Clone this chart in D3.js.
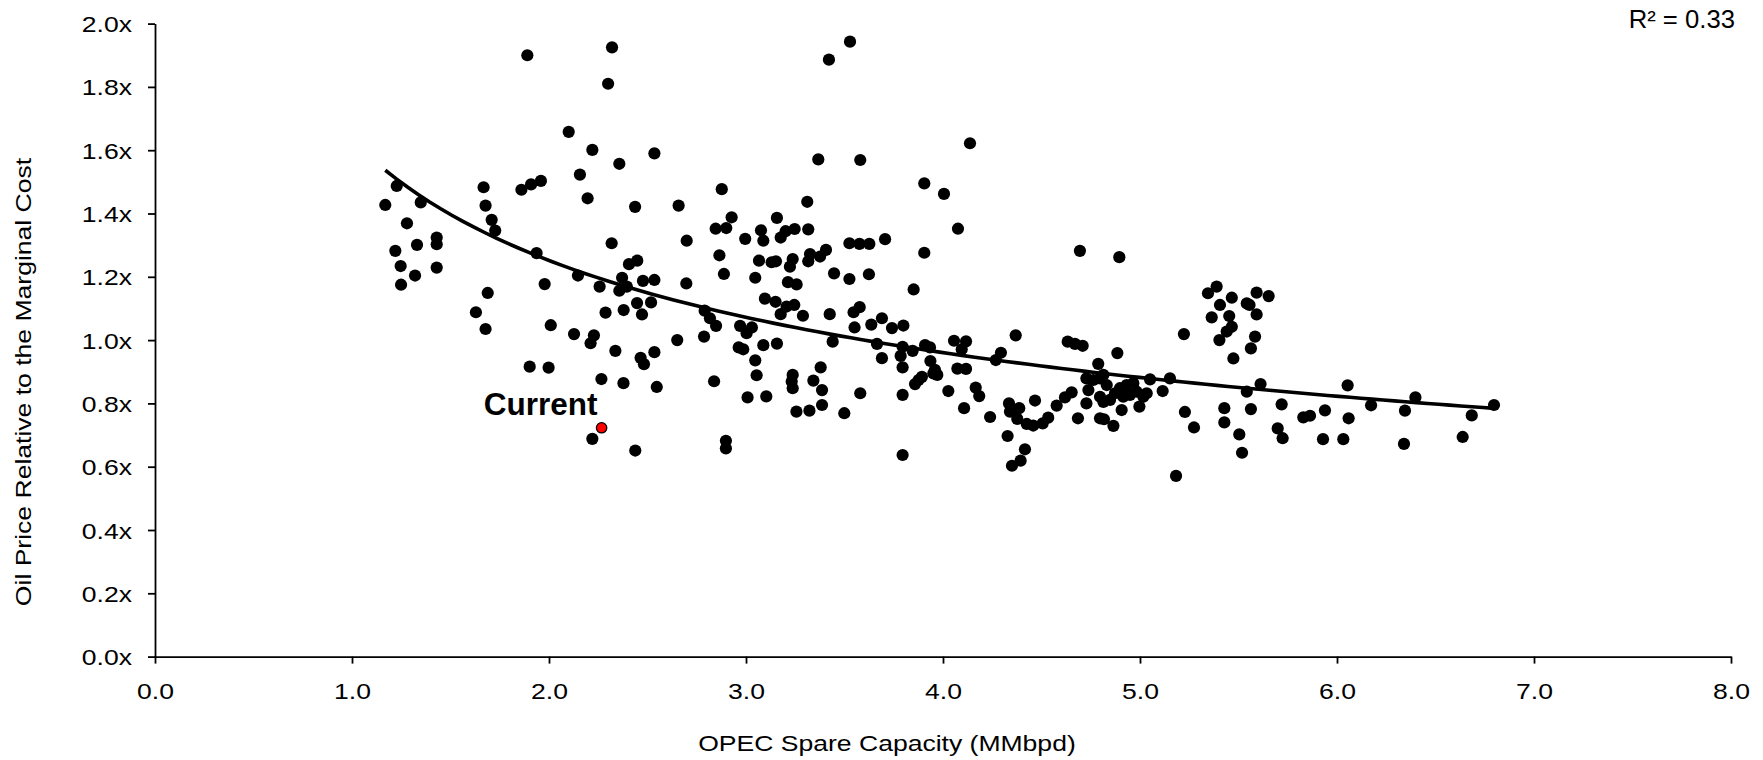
<!DOCTYPE html>
<html>
<head>
<meta charset="utf-8">
<script src="https://cdn.jsdelivr.net/npm/d3@7"></script>
<style>
  body { margin: 0; background: #fff; }
  text { font-family: "Liberation Sans", Arial, sans-serif; fill: #000; }
</style>
</head>
<body>
<svg id="chart" width="1763" height="760"></svg>
<script>
// OPEC spare capacity (MMbpd), one entry per observation
const spareCapacity = [
  1.89, 2.32, 2.30, 2.10, 2.22, 2.535, 2.357, 2.157, 2.196, 2.437, 2.318, 2.406, 2.448,
  1.86, 1.909, 1.959, 1.668, 1.678, 1.709, 1.727, 1.937, 1.227, 1.169, 1.349, 1.279,
  1.33, 1.43, 1.43, 1.22, 1.247, 1.43,
  1.32, 1.249, 1.689, 1.629, 1.678, 1.978, 2.009, 2.127, 2.228, 2.211, 2.337, 1.902,
  1.998, 2.266, 2.378, 2.22, 2.438, 2.147, 2.257, 2.287, 2.379, 2.472, 2.447, 2.518,
  2.371, 2.395, 2.357, 2.477, 2.535, 2.465, 2.482, 2.535, 2.547,
  3.528, 3.421, 3.367, 3.58, 3.905, 4.005, 2.877, 2.658, 3.311, 2.927, 2.846, 2.90,
  3.157, 3.076, 3.088, 2.996, 2.699, 3.201, 3.247, 3.176, 3.316, 3.525, 3.576, 3.626,
  3.706, 3.905, 2.865, 3.066, 3.13, 3.152, 3.237, 3.223, 3.325, 3.316, 3.376, 3.406,
  4.137, 4.076, 4.695, 4.895,
  2.697, 2.888, 3.047, 3.213, 3.257, 3.447, 3.525, 3.624, 3.851, 3.096, 3.15, 3.206,
  3.245, 3.176, 3.289, 3.425, 3.546, 3.577, 3.551, 3.636, 3.69, 3.741, 3.799, 2.79,
  2.817, 2.848, 2.787, 2.651, 2.97, 3.03, 3.003, 2.963, 2.986, 3.088, 3.157, 3.44,
  3.665, 3.795, 3.785, 3.846, 3.909, 3.934, 3.936, 3.69, 3.795, 3.047, 3.054, 3.379,
  3.342, 3.386, 3.237, 3.232, 3.237, 2.838, 3.008, 3.103, 3.256, 3.322, 3.386, 3.499,
  3.58, 3.795, 3.876, 3.893, 3.858, 3.951, 3.971, 2.898, 2.898, 3.795,
  3.959, 4.056, 4.117, 4.095, 4.073, 4.117, 4.369, 4.294, 4.268, 4.027, 4.166, 4.184,
  4.107, 4.239, 4.335, 4.34, 4.387, 4.377, 4.425, 4.458, 4.506, 4.534, 4.467, 4.328,
  4.416, 4.394, 4.35, 4.577, 4.619, 4.653, 4.685, 4.633, 4.67, 4.709, 4.885, 4.788,
  4.728, 4.763, 4.797, 4.814, 4.831, 4.738, 4.728, 4.797, 4.814, 4.848, 4.873, 4.898,
  4.932, 4.966, 4.915, 4.949, 4.983, 5.017, 5.034, 4.907, 4.997, 4.797, 4.817, 4.865,
  5.051, 5.152, 5.115, 5.228, 5.274, 5.183, 5.223, 5.345, 5.389, 5.406, 5.364, 5.403,
  5.466, 5.453, 5.466, 5.44, 5.592, 5.653, 5.542, 5.556, 5.592, 5.584, 5.563, 5.474,
  5.612, 5.542, 5.428, 5.428, 5.563, 5.504, 5.518, 5.719, 5.699, 5.724, 5.829, 5.863,
  5.939, 5.929, 6.032, 6.054, 6.059, 6.173, 6.345, 6.398, 6.34, 6.684, 6.638, 6.797
];

// oil price relative to the marginal cost, same order as spareCapacity
const priceRatio = [
  1.90, 1.925, 1.81, 1.658, 1.601, 1.59, 1.557, 1.523, 1.448, 1.421, 1.306, 1.24, 1.251,
  1.475, 1.492, 1.503, 1.483, 1.425, 1.38, 1.346, 1.275, 1.487, 1.427, 1.435, 1.369,
  1.301, 1.324, 1.303, 1.282, 1.234, 1.229,
  1.204, 1.175, 1.149, 1.088, 1.035, 1.177, 1.047, 1.019, 1.015, 0.99, 0.966, 0.916,
  0.913, 0.877, 0.864, 0.688, 0.651, 1.204, 1.169, 1.087, 1.095, 1.081, 1.117, 1.119,
  1.197, 1.169, 1.156, 1.187, 1.19, 0.944, 0.924, 0.962, 0.852,
  1.943, 1.886, 1.571, 1.569, 1.495, 1.462, 1.477, 1.425, 1.437, 1.388, 1.352, 1.354,
  1.386, 1.347, 1.314, 1.32, 1.314, 1.344, 1.351, 1.324, 1.35, 1.306, 1.304, 1.304,
  1.319, 1.276, 1.268, 1.251, 1.246, 1.249, 1.256, 1.232, 1.272, 1.249, 1.264, 1.285,
  1.622, 1.352, 1.282, 1.262,
  1.179, 1.209, 1.197, 1.183, 1.176, 1.211, 1.193, 1.208, 1.16, 1.131, 1.121, 1.106,
  1.111, 1.082, 1.077, 1.082, 1.088, 1.104, 1.04, 1.049, 1.069, 1.038, 1.046, 1.093,
  1.069, 1.045, 1.011, 1.0, 1.045, 1.04, 1.022, 0.977, 0.971, 0.984, 0.989, 0.995,
  0.988, 0.979, 0.95, 0.966, 0.984, 0.977, 0.934, 0.943, 0.914, 0.936, 0.889, 0.914,
  0.872, 0.842, 0.89, 0.869, 0.848, 0.87, 0.819, 0.822, 0.774, 0.777, 0.795, 0.769,
  0.832, 0.827, 0.874, 0.884, 0.861, 0.895, 0.89, 0.682, 0.658, 0.637,
  0.906, 0.998, 0.996, 0.971, 0.91, 0.909, 1.015, 0.96, 0.937, 0.839, 0.85, 0.823,
  0.785, 0.757, 0.8, 0.774, 0.785, 0.751, 0.735, 0.73, 0.737, 0.755, 0.809, 0.697,
  0.655, 0.619, 0.603, 0.793, 0.819, 0.835, 0.753, 0.995, 0.988, 0.982, 0.959, 0.925,
  0.879, 0.874, 0.879, 0.89, 0.858, 0.842, 0.8, 0.821, 0.805, 0.811, 0.832, 0.848,
  0.858, 0.864, 0.821, 0.827, 0.837, 0.821, 0.832, 0.779, 0.79, 0.753, 0.75, 0.729,
  0.876, 0.879, 0.839, 0.773, 0.724, 0.571, 1.019, 1.148, 1.169, 1.111, 1.072, 1.0,
  1.134, 1.076, 1.042, 1.027, 1.15, 1.139, 1.116, 1.111, 1.081, 1.011, 0.974, 0.942,
  0.861, 0.837, 0.785, 0.74, 0.782, 0.702, 0.644, 0.797, 0.721, 0.69, 0.756, 0.761,
  0.778, 0.687, 0.687, 0.857, 0.753, 0.794, 0.777, 0.819, 0.672, 0.762, 0.694, 0.795
];

const currentPoint = { x: 2.267, y: 0.723, label: 'Current' };
// power trendline y = a * x^b, coefficients
const trendCoef = { a: 1.631, b: -0.382 };
const xTicks = [0, 1, 2, 3, 4, 5, 6, 7, 8];
const yTicks = [0, 0.2, 0.4, 0.6, 0.8, 1.0, 1.2, 1.4, 1.6, 1.8, 2.0];
const r2Label = 'R\u00b2 = 0.33';
const xTitle = 'OPEC Spare Capacity (MMbpd)';
const yTitle = 'Oil Price Relative to the Marginal Cost';

const svg = d3.select('#chart');
const width = +svg.attr('width');
const height = +svg.attr('height');
const margin = { top: 23.6, right: 32, bottom: 103.4, left: 155 };
const innerWidth = width - margin.left - margin.right;
const innerHeight = height - margin.top - margin.bottom;

svg.append('rect').attr('width', width).attr('height', height).attr('fill', '#fff');

const g = svg.append('g')
  .attr('transform', `translate(${margin.left}, ${margin.top})`);

const xScale = d3.scaleLinear().domain([0, 8]).range([0, innerWidth]);
const yScale = d3.scaleLinear().domain([0, 2]).range([innerHeight, 0]);

const data = spareCapacity.map((x, i) => ({ x, y: priceRatio[i] }));

const [xMin, xMax] = d3.extent(spareCapacity);
const trend = d3.range(0, 101).map(k => {
  const x = xMin + (xMax - xMin) * k / 100;
  return [x, trendCoef.a * Math.pow(x, trendCoef.b)];
});

// the source fonts are a bit wider than Arial: stretch each text by its own length
const widen = (sel, k) => sel.each(function() {
  const w = this.getComputedTextLength();
  d3.select(this)
    .attr('textLength', w * k)
    .attr('lengthAdjust', 'spacingAndGlyphs');
});

const axisStyle = sel => {
  sel.attr('font-size', null).attr('font-family', null);
  sel.selectAll('.domain').attr('stroke', '#000').attr('stroke-width', 1.8);
  sel.selectAll('.tick line').attr('stroke', '#000').attr('stroke-width', 1.8);
  sel.selectAll('text').attr('font-size', '22.3px').attr('fill', '#000');
};

// axes
const yAxis = d3.axisLeft(yScale)
  .tickValues(yTicks)
  .tickSize(7)
  .tickSizeOuter(0)
  .tickFormat(d => d.toFixed(1) + 'x');
g.append('g')
  .attr('class', 'y-axis')
  .call(yAxis)
  .call(axisStyle)
  .selectAll('text')
    .attr('x', -23)
    .attr('dy', '0.36em')
    .call(widen, 1.19);

const xAxis = d3.axisBottom(xScale)
  .tickValues(xTicks)
  .tickSize(7)
  .tickSizeOuter(0)
  .tickFormat(d => d.toFixed(1));
g.append('g')
  .attr('class', 'x-axis')
  .attr('transform', `translate(0, ${innerHeight})`)
  .call(xAxis)
  .call(axisStyle)
  .selectAll('text')
    .attr('y', 42)
    .attr('dy', 0)
    .call(widen, 1.19);

// scatter points
g.selectAll('.dot').data(data)
  .enter().append('circle')
    .attr('class', 'dot')
    .attr('cx', d => xScale(d.x))
    .attr('cy', d => yScale(d.y))
    .attr('r', 6.1)
    .attr('fill', '#000');

// trendline
const line = d3.line()
  .x(d => xScale(d[0]))
  .y(d => yScale(d[1]));
g.append('path')
  .datum(trend)
  .attr('d', line)
  .attr('fill', 'none')
  .attr('stroke', '#000')
  .attr('stroke-width', 3.6);

// current point
g.append('circle')
  .attr('cx', xScale(currentPoint.x))
  .attr('cy', yScale(currentPoint.y))
  .attr('r', 5.2)
  .attr('fill', '#ff0000')
  .attr('stroke', '#000')
  .attr('stroke-width', 1.3);
g.append('text')
  .attr('x', xScale(currentPoint.x) - 4)
  .attr('y', yScale(currentPoint.y) - 12.5)
  .attr('text-anchor', 'end')
  .attr('font-size', '31.5px')
  .attr('font-weight', 'bold')
  .text(currentPoint.label);

// titles
svg.append('text')
  .attr('x', 887)
  .attr('y', 751)
  .attr('text-anchor', 'middle')
  .attr('font-size', '22.3px')
  .text(xTitle)
  .call(widen, 1.19);

svg.append('text')
  .attr('transform', 'translate(31, 382) rotate(-90)')
  .attr('text-anchor', 'middle')
  .attr('font-size', '22.3px')
  .text(yTitle)
  .call(widen, 1.19);

svg.append('text')
  .attr('x', 1735)
  .attr('y', 28.3)
  .attr('text-anchor', 'end')
  .attr('font-size', '25.7px')
  .text(r2Label);
</script>
</body>
</html>
